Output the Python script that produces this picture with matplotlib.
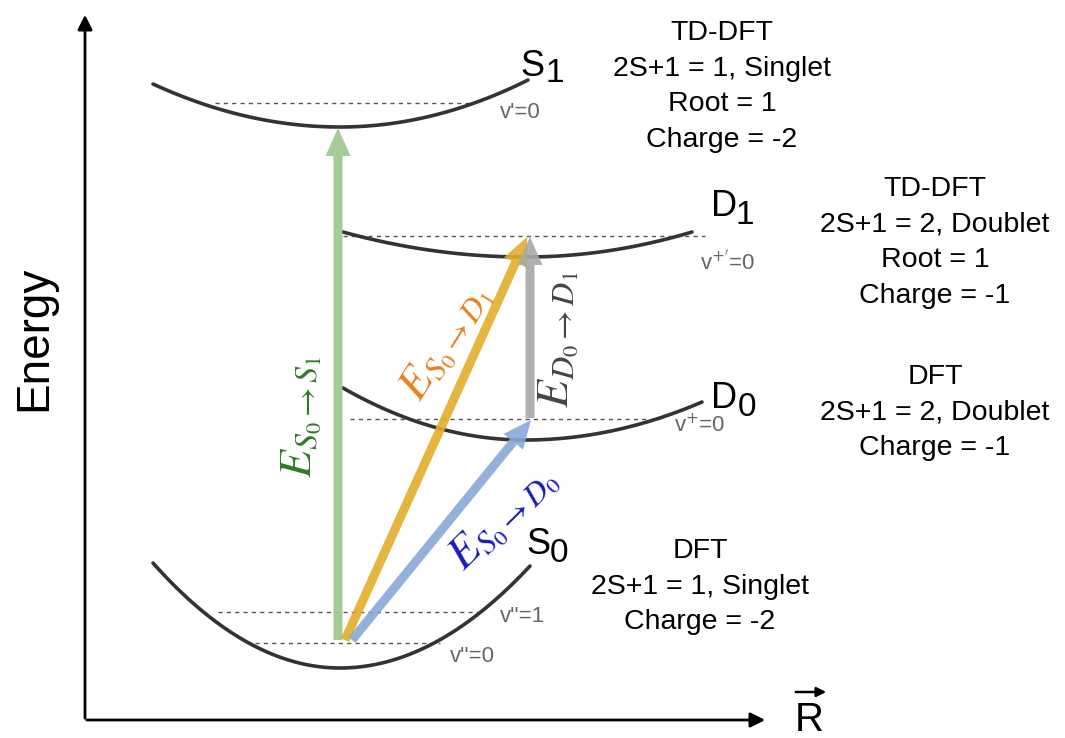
import numpy as np
import matplotlib.pyplot as plt
from matplotlib.patches import FancyArrow

plt.rcParams['font.family'] = ['Liberation Sans', 'DejaVu Sans']

# potential curves: (x_left, x_min, x_right), (y_left, y_min, y_right) in picture units
curve_letter = ['S', 'D', 'D', 'S']
curve_index = ['1', '1', '0', '0']
curve_x = [(153, 340, 528), (343, 525, 692), (343, 525, 702), (153, 340, 530)]
curve_y = [(84, 127, 80), (232, 257, 232), (388, 440, 402), (563, 668, 566)]
letter_pos = [(532, 66), (724, 207), (724, 399), (538, 545)]
index_pos = [(555, 74), (745, 215), (747, 407), (559, 554)]

# vibrational levels: y, x_start, x_end, label, label position
levels_y = [103, 236, 419, 612, 643]
levels_x = [(215, 470), (343, 705), (350, 660), (218, 482), (255, 440)]
level_labels = ["v'=0", "v$^{+'}$=0", "v$^{+}$=0", "v''=1", "v''=0"]
level_label_pos = [(520, 113), (728, 263), (700, 425), (522, 617), (472, 656)]

# transitions: start, end, colour, label
arrow_start = [(338, 640), (345, 640), (352, 640), (530, 418)]
arrow_end = [(338, 128), (527, 237), (531, 420), (530, 237)]
arrow_colors = ['#9dc78b', '#e2ae2a', '#87a9d6', '#a8a8a8']
arrow_labels = [r'$E_{S_0\rightarrow S_1}$', r'$E_{S_0\rightarrow D_1}$',
                r'$E_{S_0\rightarrow D_0}$', r'$E_{D_0\rightarrow D_1}$']
label_colors = ['#2f7a25', '#e8801e', '#1a1ab8', '#444444']
label_pos = [(301, 417), (446, 342), (503, 518), (558, 340)]
label_rot = [90, 58, 45, 90]

# method descriptions
info_text = ['TD-DFT\n2S+1 = 1, Singlet\nRoot = 1\nCharge = -2',
             'TD-DFT\n2S+1 = 2, Doublet\nRoot = 1\nCharge = -1',
             'DFT\n2S+1 = 2, Doublet\nCharge = -1',
             'DFT\n2S+1 = 1, Singlet\nCharge = -2']
info_pos = [(722, 20), (935, 176), (935, 364), (700, 538)]

fig = plt.figure(figsize=(10.65, 7.38), dpi=100)
ax = fig.add_axes([0, 0, 1, 1])
ax.set_xlim(0, 1065)
ax.set_ylim(738, 0)
ax.axis('off')

# axes arrows
ax.annotate('', xy=(85, 12), xytext=(85, 721),
            arrowprops=dict(arrowstyle='-|>', color='black', lw=2, mutation_scale=22))
ax.annotate('', xy=(768, 720), xytext=(84, 720),
            arrowprops=dict(arrowstyle='-|>', color='black', lw=2, mutation_scale=22))
ax.text(34, 338, 'Energy', fontsize=33, rotation=90, ha='center', va='center')
ax.text(809, 731, 'R', fontsize=29, ha='center', va='baseline')
ax.annotate('', xy=(829, 692), xytext=(793, 692),
            arrowprops=dict(arrowstyle='-|>', color='black', lw=1.8, mutation_scale=14))

for (xl, xm, xr), (yl, ym, yr) in zip(curve_x, curve_y):
    xa = np.linspace(xl, xm, 60)
    xb = np.linspace(xm, xr, 60)
    ya = ym + (yl - ym) * ((xa - xm) / (xl - xm)) ** 2
    yb = ym + (yr - ym) * ((xb - xm) / (xr - xm)) ** 2
    ax.plot(np.r_[xa, xb], np.r_[ya, yb], color='#333333', lw=2.6, solid_capstyle='round', zorder=3)

for let, idx, lp, ip in zip(curve_letter, curve_index, letter_pos, index_pos):
    ax.text(lp[0], lp[1], let, fontsize=26, ha='center', va='center')
    ax.text(ip[0], ip[1], idx, fontsize=24, ha='center', va='center')

for y, (x0, x1), lab, lp in zip(levels_y, levels_x, level_labels, level_label_pos):
    ax.plot([x0, x1], [y, y], color='#555555', lw=1, ls=(0, (3, 3)), zorder=2)
    ax.text(lp[0], lp[1], lab, fontsize=16, color='#666666', ha='center', va='center')

for s, e, c in zip(arrow_start, arrow_end, arrow_colors):
    ax.add_patch(FancyArrow(s[0], s[1], e[0] - s[0], e[1] - s[1], width=9,
                            head_width=25, head_length=28, length_includes_head=True,
                            color=c, alpha=0.9, lw=0, zorder=4))

for lab, c, p, r in zip(arrow_labels, label_colors, label_pos, label_rot):
    ax.text(p[0], p[1], lab, fontsize=33, color=c, rotation=r, ha='center', va='center',
            math_fontfamily='stix', rotation_mode='anchor', zorder=5)

for t, p in zip(info_text, info_pos):
    ax.text(p[0], p[1], t, fontsize=20.5, ha='center', va='top', linespacing=1.48)

fig.savefig('out.png', dpi=100)
